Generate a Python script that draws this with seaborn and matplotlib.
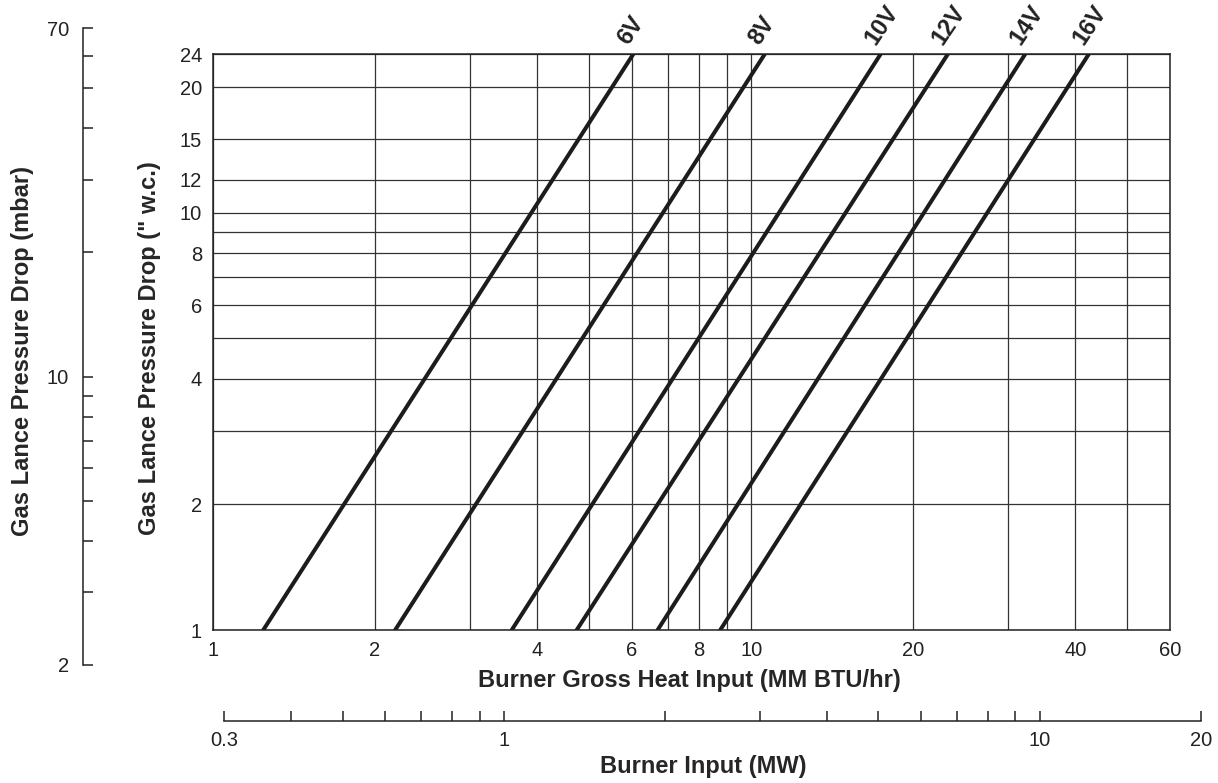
import numpy as np
import pandas as pd
import matplotlib
matplotlib.use("Agg")
import matplotlib.pyplot as plt
import seaborn as sns
from matplotlib.ticker import FixedLocator, FixedFormatter, NullFormatter

# ---------------- data ----------------
series = ["6V", "8V", "10V", "12V", "14V", "16V"]
x_at_ymin = [1.24, 2.18, 3.59, 4.74, 6.70, 8.76]     # MM BTU/hr at 1 " w.c.
x_at_ymax = [6.04, 10.6, 17.4, 23.2, 32.3, 42.4]     # MM BTU/hr at 24 " w.c.
y_ends = [1, 24]

x_major = [1, 2, 4, 6, 8, 10, 20, 40, 60]
x_minor = [3, 5, 7, 9, 30, 50]
y_major = [1, 2, 4, 6, 8, 10, 12, 15, 20, 24]
y_minor = [3, 5, 7, 9]

mbar_ticks = [2, 3, 4, 5, 6, 7, 8, 9, 10, 20, 30, 40, 50, 60, 70]
mbar_labels = ["2", "", "", "", "", "", "", "", "10", "", "", "", "", "", "70"]
mw_ticks = [0.3, 0.4, 0.5, 0.6, 0.7, 0.8, 0.9, 1, 2, 3, 4, 5, 6, 7, 8, 9, 10, 20]
mw_labels = ["0.3", "", "", "", "", "", "", "1", "", "", "", "", "", "", "", "", "10", "20"]

rows = []
for s, a, b in zip(series, x_at_ymin, x_at_ymax):
    rows.append({"series": s, "x": a, "y": y_ends[0]})
    rows.append({"series": s, "x": b, "y": y_ends[1]})
df = pd.DataFrame(rows)

# ---------------- style ----------------
sns.set_theme(style="white")
plt.rcParams["font.family"] = ["Liberation Sans", "DejaVu Sans"]
plt.rcParams["text.color"] = "#222222"
plt.rcParams["xtick.color"] = "#222222"
plt.rcParams["ytick.color"] = "#222222"

TICK_FS = 14.5
TITLE_FS = 17

W, H = 1218, 783
fig = plt.figure(figsize=(W / 100, H / 100), dpi=100)
fig.patch.set_facecolor("white")

def fx(px):
    return px / W

def fy(py):
    return 1 - py / H

# main axes
L, R, T, B = 213, 1170, 54, 630
ax = fig.add_axes([fx(L), fy(B), fx(R - L), (B - T) / H])
ax.set_facecolor("white")

sns.lineplot(data=df, x="x", y="y", hue="series", palette=["#1c1c1c"] * len(series),
             legend=False, lw=2.9, sort=False, estimator=None, ax=ax)

ax.set_xscale("log")
ax.set_yscale("log")
ax.set_xlim(1, 60)
ax.set_ylim(1, 24)

ax.xaxis.set_major_locator(FixedLocator(x_major))
ax.xaxis.set_major_formatter(FixedFormatter([str(v) for v in x_major]))
ax.xaxis.set_minor_locator(FixedLocator(x_minor))
ax.xaxis.set_minor_formatter(NullFormatter())
ax.yaxis.set_major_locator(FixedLocator(y_major))
ax.yaxis.set_major_formatter(FixedFormatter([str(v) for v in y_major]))
ax.yaxis.set_minor_locator(FixedLocator(y_minor))
ax.yaxis.set_minor_formatter(NullFormatter())

ax.tick_params(which="both", length=0, labelsize=TICK_FS)
ax.tick_params(axis="y", pad=8)
ax.tick_params(axis="x", pad=8)
ax.grid(True, which="both", color="#333333", lw=0.9)
ax.set_axisbelow(True)
for sp in ax.spines.values():
    sp.set_visible(True)
    sp.set_color("#222222")
    sp.set_linewidth(1.1)

ax.set_xlabel("Burner Gross Heat Input (MM BTU/hr)", fontsize=TITLE_FS, fontweight="bold")
ax.set_ylabel("Gas Lance Pressure Drop (\" w.c.)", fontsize=TITLE_FS, fontweight="bold")
ax.xaxis.set_label_coords(fx(689), fy(669), transform=fig.transFigure)
ax.yaxis.set_label_coords(fx(161), fy(348), transform=fig.transFigure)

# series labels at the top end of each line
for s, b in zip(series, x_at_ymax):
    ax.annotate(s, xy=(b, y_ends[1]), xytext=(-1, 5), textcoords="offset pixels",
                rotation=56, rotation_mode="anchor", ha="left", va="bottom",
                fontsize=17, fontweight="bold", annotation_clip=False)

# mbar secondary axis (left)
ax2 = fig.add_axes([fx(83), fy(665), 0.0005, (665 - 28) / H])
ax2.set_yscale("log")
ax2.set_ylim(2, 70)
ax2.set_facecolor("none")
for k in ["top", "right", "bottom"]:
    ax2.spines[k].set_visible(False)
ax2.spines["left"].set_color("#222222")
ax2.spines["left"].set_linewidth(1.1)
ax2.set_xticks([])
ax2.yaxis.set_major_locator(FixedLocator(mbar_ticks))
ax2.yaxis.set_major_formatter(FixedFormatter(mbar_labels))
ax2.yaxis.set_minor_locator(FixedLocator([]))
ax2.tick_params(axis="y", left=True, direction="in", length=7, width=1.1,
                labelsize=TICK_FS, pad=10)
ax2.set_ylabel("Gas Lance Pressure Drop (mbar)", fontsize=TITLE_FS, fontweight="bold")
ax2.yaxis.set_label_coords(fx(34), fy(351), transform=fig.transFigure)

# MW secondary axis (bottom)
ax3 = fig.add_axes([fx(224), fy(721), fx(1201 - 224), 0.0005])
ax3.set_xscale("log")
ax3.set_xlim(0.3, 20)
ax3.set_facecolor("none")
for k in ["top", "right", "left"]:
    ax3.spines[k].set_visible(False)
ax3.spines["bottom"].set_color("#222222")
ax3.spines["bottom"].set_linewidth(1.1)
ax3.set_yticks([])
ax3.xaxis.set_major_locator(FixedLocator(mw_ticks))
ax3.xaxis.set_major_formatter(FixedFormatter(mw_labels))
ax3.xaxis.set_minor_locator(FixedLocator([]))
ax3.tick_params(axis="x", bottom=True, direction="in", length=7, width=1.1,
                labelsize=TICK_FS, pad=7)
ax3.set_xlabel("Burner Input (MW)", fontsize=TITLE_FS, fontweight="bold")
ax3.xaxis.set_label_coords(fx(703), fy(755), transform=fig.transFigure)

fig.savefig("out.png", dpi=100, facecolor="white")
